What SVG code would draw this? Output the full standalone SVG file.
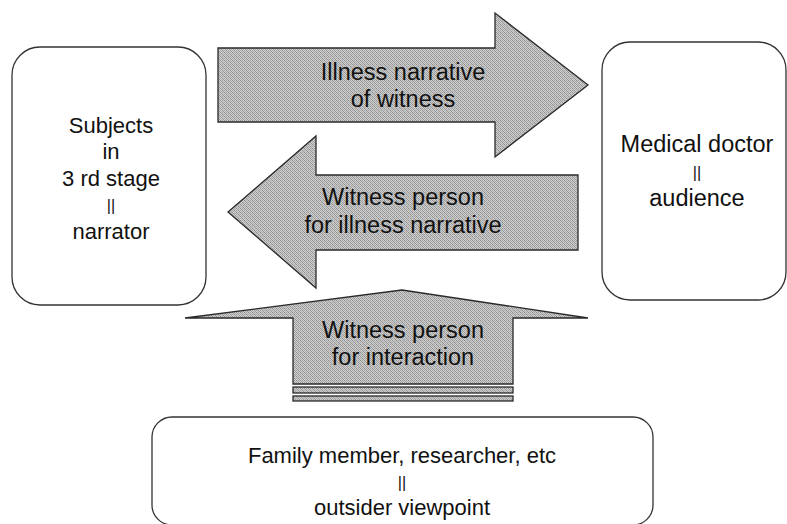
<svg xmlns="http://www.w3.org/2000/svg" width="787" height="524" viewBox="0 0 787 524">
  <defs>
    <pattern id="dots" width="4" height="4" patternUnits="userSpaceOnUse">
      <rect width="4" height="4" fill="#cdcdcd"/>
      <rect x="0" y="0" width="1" height="1" fill="#8c8c8c"/>
      <rect x="2" y="0" width="1" height="1" fill="#a4a4a4"/>
      <rect x="1" y="1" width="1" height="1" fill="#9a9a9a"/>
      <rect x="3" y="1" width="1" height="1" fill="#b0b0b0"/>
      <rect x="0" y="2" width="1" height="1" fill="#a8a8a8"/>
      <rect x="2" y="2" width="1" height="1" fill="#8e8e8e"/>
      <rect x="1" y="3" width="1" height="1" fill="#b4b4b4"/>
      <rect x="3" y="3" width="1" height="1" fill="#969696"/>
    </pattern>
  </defs>
  <style>
    .box { fill: #ffffff; stroke: #333333; stroke-width: 1.3; }
    .arrow { fill: url(#dots); stroke: #2a2a2a; stroke-width: 1.3; stroke-linejoin: miter; }
    text { font-family: "Liberation Sans", Arial, Helvetica, sans-serif; font-size: 22px; fill: #111111; text-anchor: middle; }
    .big { font-size: 23.5px; }
    .bars { font-size: 16px; }
  </style>
  <rect width="787" height="524" fill="#ffffff"/>

  <g id="connectors">
    <g id="arrow-illness-narrative">
      <polygon class="arrow" points="218,48 495,48 495,13 588,85 495,157 495,122 218,122"/>
      <text class="big" x="403" y="80">Illness narrative</text>
      <text class="big" x="403" y="107">of witness</text>
    </g>
    <g id="arrow-witness-illness">
      <polygon class="arrow" points="578,175 316,175 316,136 228,212 316,288 316,250 578,250"/>
      <text class="big" x="403" y="205">Witness person</text>
      <text class="big" x="403" y="233">for illness narrative</text>
    </g>
    <g id="arrow-witness-interaction">
      <polygon class="arrow" points="402,290 588,318 513,318 513,384 293,384 293,318 185,318"/>
      <rect class="arrow" x="293" y="387" width="220" height="6"/>
      <rect class="arrow" x="293" y="396" width="220" height="5"/>
      <text class="big" x="403" y="338">Witness person</text>
      <text class="big" x="403" y="365">for interaction</text>
    </g>
  </g>

  <g id="node-subjects">
    <rect class="box" x="12" y="47" width="194" height="258" rx="28" ry="28"/>
    <text x="111" y="133">Subjects</text>
    <text x="111" y="159">in</text>
    <text x="111" y="186">3 rd stage</text>
    <text class="bars" x="111" y="211">||</text>
    <text x="111" y="239">narrator</text>
  </g>

  <g id="node-doctor">
    <rect class="box" x="602" y="42" width="184" height="258" rx="28" ry="28"/>
    <text class="big" x="697" y="152">Medical doctor</text>
    <text class="bars" x="697" y="178">||</text>
    <text class="big" x="697" y="206">audience</text>
  </g>

  <g id="node-outsider">
    <rect class="box" x="152" y="417" width="501" height="108" rx="20" ry="20"/>
    <text x="402" y="463">Family member, researcher, etc</text>
    <text class="bars" x="402" y="488">||</text>
    <text x="402" y="515">outsider viewpoint</text>
  </g>
</svg>
